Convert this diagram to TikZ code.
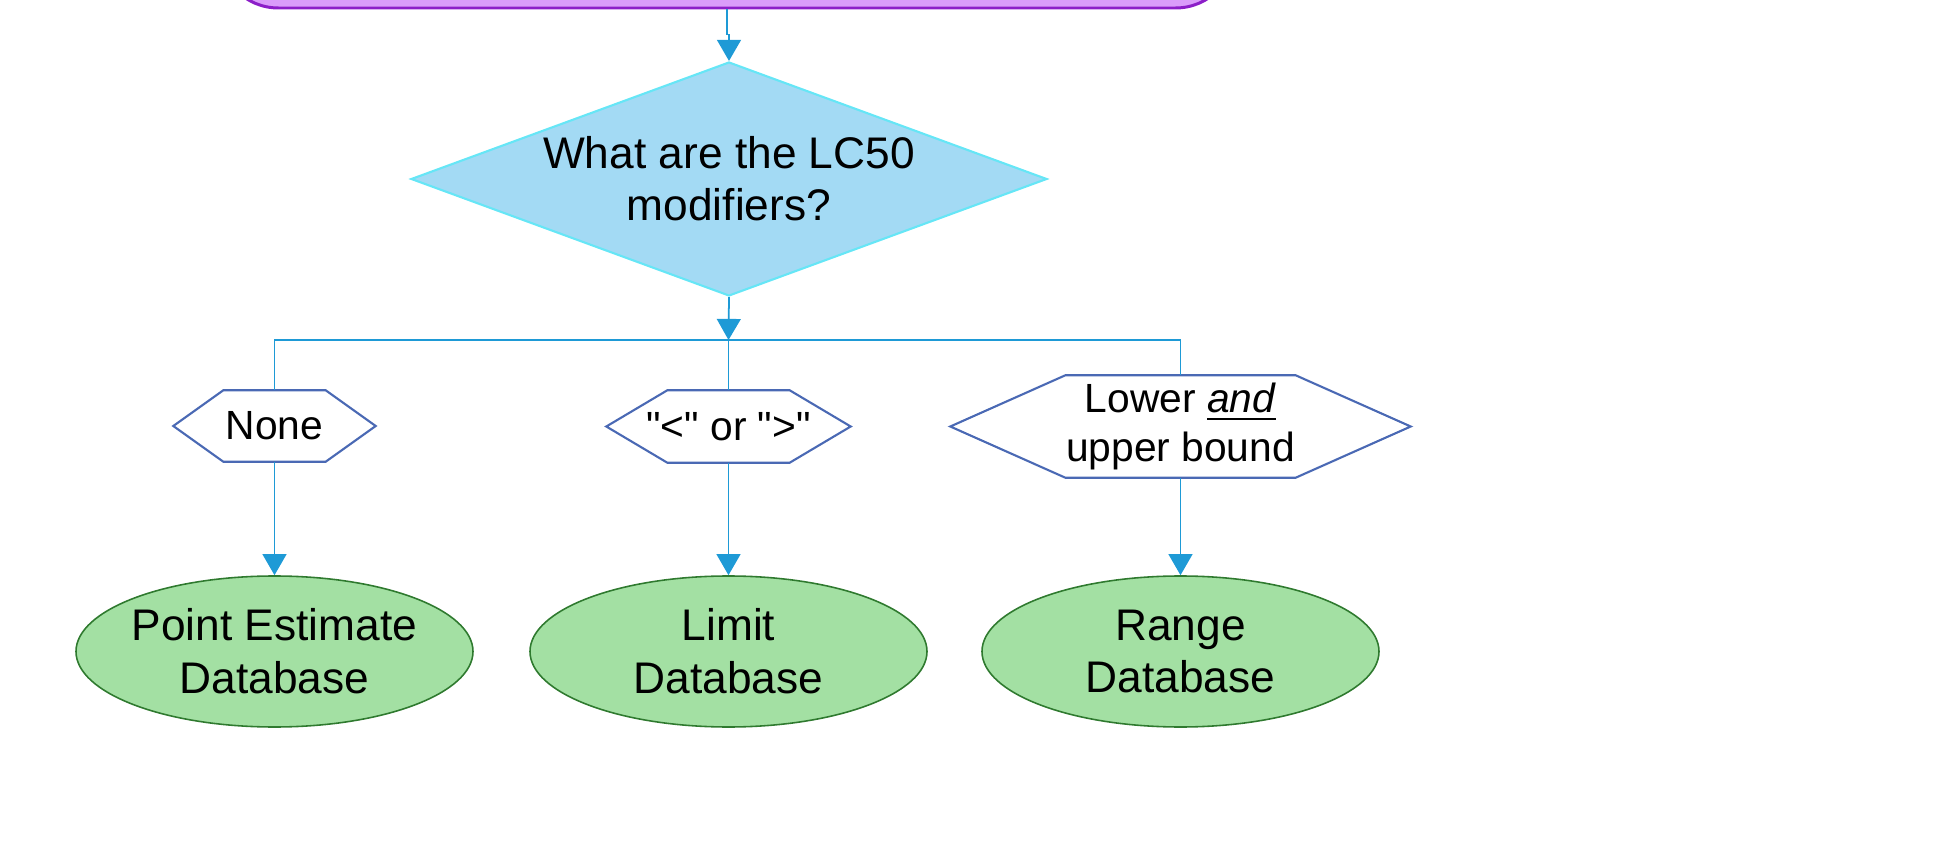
\documentclass[tikz,border=0pt]{standalone}
\usepackage{fontspec}
\setmainfont{Liberation Sans}
\usetikzlibrary{shapes.geometric, arrows.meta, positioning, calc}
\usepackage{amsmath}

\definecolor{lilacfill}{HTML}{DA9CFA}
\definecolor{lilacline}{HTML}{8C1EC8}
\definecolor{skyfill}{HTML}{A3DAF4}
\definecolor{skyline}{HTML}{66E6F6}
\definecolor{flowblue}{HTML}{1E9AD6}
\definecolor{hexblue}{HTML}{4A69B4}
\definecolor{dbfill}{HTML}{A3E0A3}
\definecolor{dbline}{HTML}{2F7A2F}

\tikzset{
    link/.style={draw=flowblue, line width=0.5pt},
    arr/.style={link, -{Triangle[length=6pt,width=6.8pt]}},
    topbox/.style={draw=lilacline, fill=lilacfill, line width=0.85pt, rounded corners=0.6cm},
    question/.style={diamond, draw=skyline, fill=skyfill, line width=0.6pt, inner sep=0pt,
        aspect=2.72, align=center, font=\fontsize{12.6}{14.8}\selectfont},
    answer/.style={rectangle, inner sep=0pt, align=center, font=\fontsize{11.6}{14}\selectfont},
    dbase/.style={ellipse, draw=dbline, fill=dbfill, line width=0.45pt, inner xsep=-1pt, inner ysep=0pt,
        minimum width=3.97cm, minimum height=1.51cm, align=center, font=\fontsize{12.6}{15}\selectfont},
}

% hexagon round an answer node: #1 node name, #2 inset of the points
\newcommand{\hexoutline}[2]{%
    \draw[draw=hexblue, line width=0.6pt] (#1.west) -- ([xshift=#2]#1.north west)
        -- ([xshift=-#2]#1.north east) -- (#1.east) -- ([xshift=-#2]#1.south east)
        -- ([xshift=#2]#1.south west) -- cycle;}

\begin{document}
\begin{tikzpicture}
    \useasboundingbox (0, 0) rectangle (19.36, -8.49);

    \node[topbox, minimum width=10.17cm, minimum height=1.2cm] (prev) at (7.27, 0.52) {};
    \node[question, minimum width=6.36cm, minimum height=2.34cm] (modq) at (7.29, -1.79)
        {What are the LC50\\modifiers?};
    \coordinate (split) at (7.285, -3.40);

    \node[answer, minimum width=2.01cm, minimum height=0.70cm] (nonehex) at (2.745, -4.26) {None};
    \node[answer, minimum width=2.43cm, minimum height=0.71cm] (limhex) at (7.285, -4.265)
        {\textquotedbl<\textquotedbl{} or \textquotedbl>\textquotedbl};
    \node[answer, minimum width=4.59cm, minimum height=1.01cm] (rnghex) at (11.805, -4.265)
        {Lower \underline{\textit{and}}\\upper bound};
    \hexoutline{nonehex}{0.50cm}
    \hexoutline{limhex}{0.61cm}
    \hexoutline{rnghex}{1.15cm}

    \node[dbase] (pointdb) at (2.745, -6.515) {Point Estimate\\Database};
    \node[dbase] (limitdb) at (7.285, -6.515) {Limit\\Database};
    \node[dbase] (rangedb) at (11.805, -6.515) {Range\\Database};

    % connectors
    \draw[arr] (prev.south) -- ++(0, -0.25) -| (modq.north);
    \draw[arr] (modq.south) -- (split);
    \draw[link] (nonehex.north) |- (split) -| (rnghex.north);
    \draw[link] (split) -- (limhex.north);
    \draw[arr] (nonehex.south) -- (pointdb.north);
    \draw[arr] (limhex.south) -- (limitdb.north);
    \draw[arr] (rnghex.south) -- (rangedb.north);
\end{tikzpicture}
\end{document}
